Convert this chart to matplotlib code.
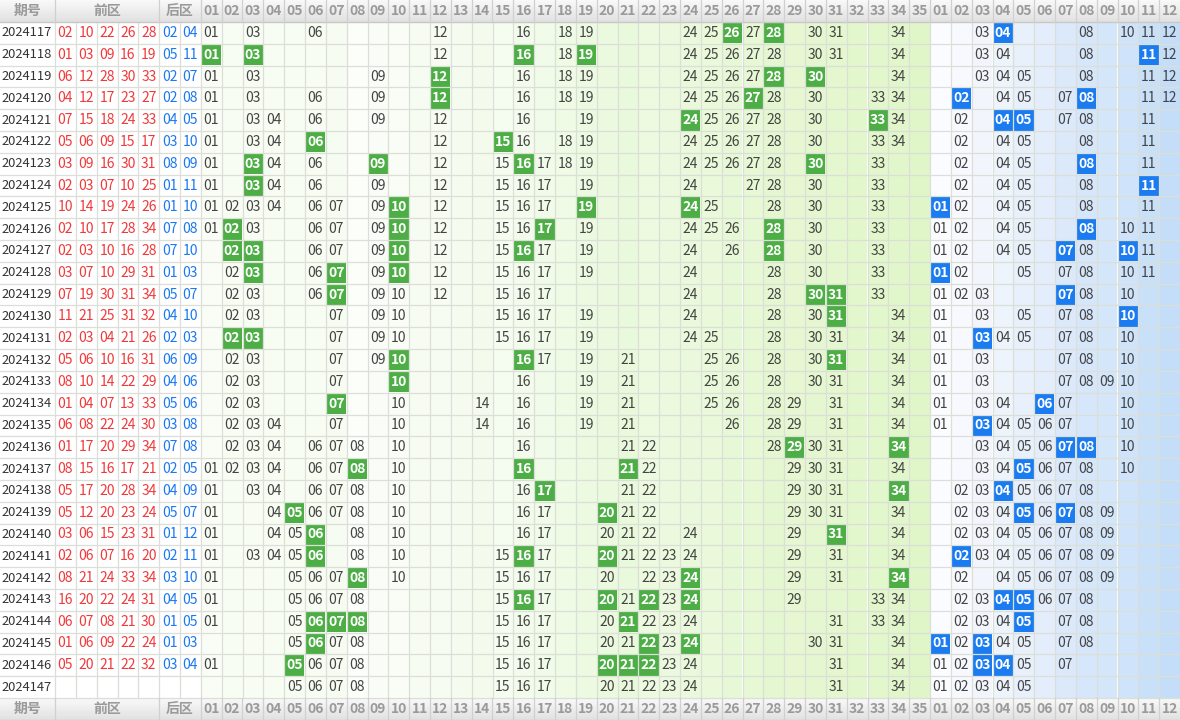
import matplotlib
matplotlib.use("Agg")
import matplotlib.pyplot as plt
from matplotlib.patches import Rectangle
import numpy as np

plt.rcParams["font.family"] = ["Noto Sans CJK SC", "DejaVu Sans"]

# 期号与开奖号码
periods = [str(p) for p in range(2024117, 2024148)]
front_draws = [
    "02 10 22 26 28", "01 03 09 16 19", "06 12 28 30 33", "04 12 17 23 27",
    "07 15 18 24 33", "05 06 09 15 17", "03 09 16 30 31", "02 03 07 10 25",
    "10 14 19 24 26", "02 10 17 28 34", "02 03 10 16 28", "03 07 10 29 31",
    "07 19 30 31 34", "11 21 25 31 32", "02 03 04 21 26", "05 06 10 16 31",
    "08 10 14 22 29", "01 04 07 13 33", "06 08 22 24 30", "01 17 20 29 34",
    "08 15 16 17 21", "05 17 20 28 34", "05 12 20 23 24", "03 06 15 23 31",
    "02 06 07 16 20", "08 21 24 33 34", "16 20 22 24 31", "06 07 08 21 30",
    "01 06 09 22 24", "05 20 21 22 32", "",
]
back_draws = [
    "02 04", "05 11", "02 07", "02 08", "04 05", "03 10", "08 09", "01 11",
    "01 10", "07 08", "07 10", "01 03", "05 07", "04 10", "02 03", "06 09",
    "04 06", "05 06", "03 08", "07 08", "02 05", "04 09", "05 07", "01 12",
    "02 11", "03 10", "04 05", "01 05", "01 03", "03 04", "",
]

# 分布区显示的号码，* 表示高亮
front_dist = [
    "01 03 06 12 16 18 19 24 25 *26 27 *28 30 31 34",
    "*01 *03 12 *16 18 *19 24 25 26 27 28 30 31 34",
    "01 03 09 *12 16 18 19 24 25 26 27 *28 *30 34",
    "01 03 06 09 *12 16 18 19 24 25 26 *27 28 30 33 34",
    "01 03 04 06 09 12 16 19 *24 25 26 27 28 30 *33 34",
    "01 03 04 *06 12 *15 16 18 19 24 25 26 27 28 30 33 34",
    "01 *03 04 06 *09 12 15 *16 17 18 19 24 25 26 27 28 *30 33",
    "01 *03 04 06 09 12 15 16 17 19 24 27 28 30 33",
    "01 02 03 04 06 07 09 *10 12 15 16 17 *19 *24 25 28 30 33",
    "01 *02 03 06 07 09 *10 12 15 16 *17 19 24 25 26 *28 30 33",
    "*02 *03 06 07 09 *10 12 15 *16 17 19 24 26 *28 30 33",
    "02 *03 06 *07 09 *10 12 15 16 17 19 24 28 30 33",
    "02 03 06 *07 09 10 12 15 16 17 24 28 *30 *31 33",
    "02 03 07 09 10 15 16 17 19 24 28 30 *31 34",
    "*02 *03 07 09 10 15 16 17 19 24 25 28 30 31 34",
    "02 03 07 09 *10 *16 17 19 21 25 26 28 30 *31 34",
    "02 03 07 *10 16 19 21 25 26 28 30 31 34",
    "02 03 *07 10 14 16 19 21 25 26 28 29 31 34",
    "02 03 04 07 10 14 16 19 21 26 28 29 31 34",
    "02 03 04 06 07 08 10 16 21 22 28 *29 30 31 *34",
    "01 02 03 04 06 07 *08 10 *16 *21 22 29 30 31 34",
    "01 03 04 06 07 08 10 16 *17 21 22 29 30 31 *34",
    "01 04 *05 06 07 08 10 16 17 *20 21 22 29 30 31 34",
    "01 04 05 *06 08 10 16 17 20 21 22 24 29 *31 34",
    "01 03 04 05 *06 08 10 15 *16 17 *20 21 22 23 24 29 31 34",
    "01 05 06 07 *08 10 15 16 17 20 22 23 *24 29 31 *34",
    "01 05 06 07 08 15 *16 17 *20 21 *22 23 *24 29 33 34",
    "01 05 *06 *07 *08 15 16 17 20 *21 22 23 24 31 33 34",
    "05 *06 07 08 15 16 17 20 21 *22 23 *24 30 31 34",
    "01 *05 06 07 08 15 16 17 *20 *21 *22 23 24 31 34",
    "05 06 07 08 15 16 17 20 21 22 23 24 31 34",
]
back_dist = [
    "03 *04 08 10 11 12", "03 04 08 *11 12", "03 04 05 08 11 12",
    "*02 04 05 07 *08 11 12", "02 *04 *05 07 08 11", "02 04 05 08 11",
    "02 04 05 *08 11", "02 04 05 08 *11", "*01 02 04 05 08 11",
    "01 02 04 05 *08 10 11", "01 02 04 05 *07 08 *10 11", "*01 02 05 07 08 10 11",
    "01 02 03 *07 08 10", "01 03 05 07 08 *10", "01 *03 04 05 07 08 10",
    "01 03 07 08 10", "01 03 07 08 09 10", "01 03 04 *06 07 10",
    "01 *03 04 05 06 07 10", "03 04 05 06 *07 *08 10", "03 04 *05 06 07 08 10",
    "02 03 *04 05 06 07 08", "02 03 04 *05 06 *07 08 09", "02 03 04 05 06 07 08 09",
    "*02 03 04 05 06 07 08 09", "02 04 05 06 07 08 09", "02 03 *04 *05 06 07 08",
    "02 03 04 *05 07 08", "*01 02 *03 04 05 07 08", "01 02 *03 *04 05 07",
    "01 02 03 04 05",
]

n_front, n_back = 35, 12
W, H = 1180, 720
left_w = 55
cw = (W - left_w) / (7 + n_front + n_back)
head_h = 22
rh = (H - 2 * head_h) / len(periods)

fig = plt.figure(figsize=(W / 100, H / 100), dpi=100)
ax = fig.add_axes([0, 0, 1, 1])
ax.set_xlim(0, W)
ax.set_ylim(H, 0)
ax.axis("off")


def mix(c1, c2, t):
    return tuple(np.array(c1) * (1 - t) + np.array(c2) * t)


# 列背景色（分组渐变）
front_groups = [((0.975, 0.992, 0.96), (0.965, 0.99, 0.945)),
                ((0.985, 0.995, 0.975), (0.955, 0.985, 0.93)),
                ((0.96, 0.99, 0.94), (0.915, 0.975, 0.86)),
                ((0.93, 0.98, 0.88), (0.895, 0.97, 0.82)),
                ((0.9, 0.97, 0.82), (0.88, 0.965, 0.79))]
back_groups = [((0.985, 0.99, 1.0), (0.95, 0.965, 0.99)),
               ((0.93, 0.955, 0.99), (0.89, 0.93, 0.985)),
               ((0.86, 0.915, 0.985), (0.83, 0.9, 0.98)),
               ((0.81, 0.89, 0.98), (0.77, 0.865, 0.975))]
col_colors = []
for i in range(n_front):
    a, b = front_groups[i // 7]
    col_colors.append(mix(a, b, (i % 7) / 6))
for i in range(n_back):
    a, b = back_groups[i // 3]
    col_colors.append(mix(a, b, (i % 3) / 2))

x0 = left_w + 7 * cw
body_top = head_h
body_h = rh * len(periods)
for i, c in enumerate(col_colors):
    ax.add_patch(Rectangle((x0 + i * cw, body_top), cw, body_h, color=c, lw=0))

# 网格线
grid_c = "#dcdfd8"
for r in range(len(periods) + 1):
    y = body_top + r * rh
    ax.plot([0, W], [y, y], color=grid_c, lw=0.9)
xs = [left_w] + [left_w + k * cw for k in range(1, 55)]
for x in xs:
    ax.plot([x, x], [body_top, body_top + body_h], color=grid_c, lw=0.9)

# 表头与表尾
head_labels = [f"{k:02d}" for k in range(1, n_front + 1)] + [f"{k:02d}" for k in range(1, n_back + 1)]
for y in (0, H - head_h):
    for k in range(20):
        ax.add_patch(Rectangle((0, y + k * head_h / 20), W, head_h / 20 + 0.1,
                               color=mix((0.975, 0.975, 0.975), (0.88, 0.88, 0.88), k / 19), lw=0))
    ax.plot([0, W], [y + head_h, y + head_h], color="#c8c8c8", lw=0.9)
    yc = y + head_h / 2
    for x in [left_w, left_w + 5 * cw, x0] + [x0 + k * cw for k in range(1, 47)]:
        ax.plot([x, x], [y, y + head_h], color="#d0d0d0", lw=0.9)
    hs = dict(color="#9a9a9a", fontsize=10, ha="center", va="center", fontweight="bold")
    ax.text(left_w / 2, yc, "期号", **hs)
    ax.text(left_w + 2.5 * cw, yc, "前区", **hs)
    ax.text(left_w + 6 * cw, yc, "后区", **hs)
    for k, lab in enumerate(head_labels):
        ax.text(x0 + (k + 0.5) * cw, yc, lab, **hs)

green, blue = "#4cae45", "#1a7cf0"
for r, p in enumerate(periods):
    yc = body_top + (r + 0.5) * rh
    ax.text(1, yc, p, color="#333333", fontsize=9.3, ha="left", va="center")
    for k, n in enumerate(front_draws[r].split()):
        ax.text(left_w + (k + 0.5) * cw, yc, n, color="#f0393a", fontsize=10, ha="center", va="center")
    for k, n in enumerate(back_draws[r].split()):
        ax.text(left_w + (k + 5.5) * cw, yc, n, color="#1a78f0", fontsize=10, ha="center", va="center")
    for dist, offset, hc in ((front_dist[r], 0, green), (back_dist[r], n_front, blue)):
        for tok in dist.split():
            hit = tok.startswith("*")
            n = tok.lstrip("*")
            cx = x0 + (offset + int(n) - 1) * cw
            if hit:
                ax.add_patch(Rectangle((cx + 0.5, body_top + r * rh + 0.5), cw - 1, rh - 1, color=hc, lw=0))
            ax.text(cx + cw / 2, yc, n, color="white" if hit else "#444444",
                    fontsize=10, ha="center", va="center", fontweight="bold" if hit else "normal")

fig.savefig("out.png", dpi=100)
